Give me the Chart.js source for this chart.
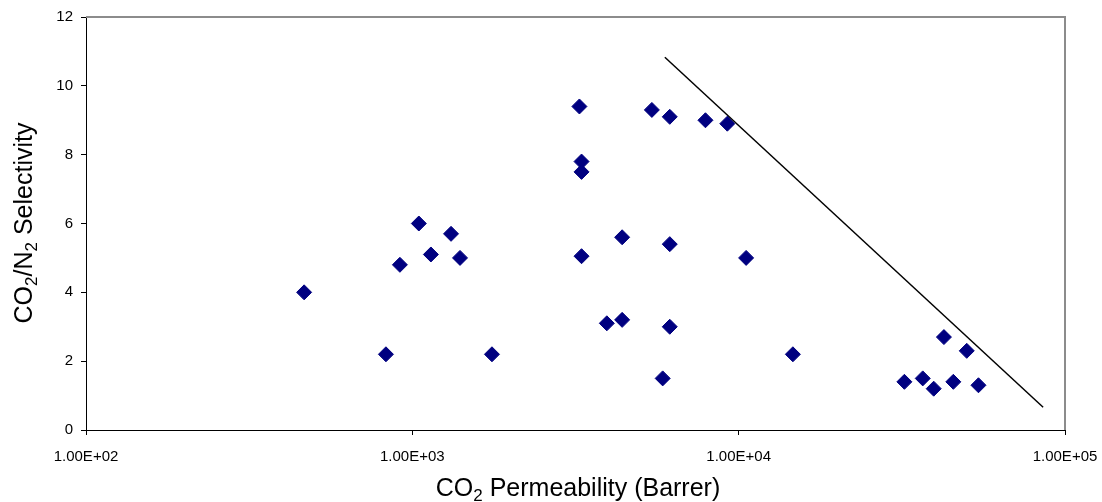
<!DOCTYPE html>
<html>
<head>
<meta charset="utf-8">
<script src="https://cdn.jsdelivr.net/npm/chart.js@4.4.0/dist/chart.umd.min.js"></script>
<style>
  html, body { margin: 0; padding: 0; background: #fff; }
</style>
</head>
<body>
<canvas id="chart" width="1102" height="502"></canvas>
<script>
// CO2 permeability (Barrer) and CO2/N2 selectivity
const permeability = [
  466, 830, 916, 1047, 1140, 1314, 1400, 1754,
  3251, 3300, 3300, 3300, 3945, 4395, 4395, 5850, 5420, 6150, 6150, 6150, 7910, 9230, 10540, 14660,
  32200, 36650, 39600, 42560, 45480, 50000, 54300
];
const selectivity = [
  4.0, 2.2, 4.8, 6.0, 5.1, 5.7, 5.0, 2.2,
  9.4, 7.8, 7.5, 5.05, 3.1, 3.2, 5.6, 1.5, 9.3, 9.1, 5.4, 3.0, 9.0, 8.9, 5.0, 2.2,
  1.4, 1.5, 1.2, 2.7, 1.4, 2.3, 1.3
];
// upper bound line end points
const boundX = [5940, 85700];
const boundY = [10.83, 0.66];

const xTicks = [100, 1000, 10000, 100000];
const yTicks = [0, 2, 4, 6, 8, 10, 12];

const FONT = '"Liberation Sans", Arial, sans-serif';

// axis titles with real subscripts
function drawRich(ctx, parts, size) {
  const sub = Math.round(size * 0.66);
  let w = 0;
  parts.forEach(p => {
    ctx.font = (p[1] ? sub : size) + 'px ' + FONT;
    w += ctx.measureText(p[0]).width;
  });
  let x = -w / 2;
  parts.forEach(p => {
    ctx.font = (p[1] ? sub : size) + 'px ' + FONT;
    ctx.fillText(p[0], x, p[1] ? size * 0.3 : 0);
    x += ctx.measureText(p[0]).width;
  });
}

const framePlugin = {
  id: 'frame',
  afterDraw(chart) {
    const { ctx, chartArea: a } = chart;
    ctx.save();
    ctx.strokeStyle = '#8c8c8c';
    ctx.lineWidth = 2;
    ctx.beginPath();
    ctx.moveTo(a.left, a.top);
    ctx.lineTo(a.right, a.top);
    ctx.lineTo(a.right, a.bottom);
    ctx.stroke();

    ctx.fillStyle = '#000';
    ctx.textBaseline = 'middle';
    ctx.textAlign = 'left';
    ctx.save();
    ctx.translate(578, 489);
    drawRich(ctx, [['CO', 0], ['2', 1], [' Permeability (Barrer)', 0]], 25);
    ctx.restore();
    ctx.save();
    ctx.translate(25, 223);
    ctx.rotate(-Math.PI / 2);
    drawRich(ctx, [['CO', 0], ['2', 1], ['/N', 0], ['2', 1], [' Selectivity', 0]], 25);
    ctx.restore();
    ctx.restore();
  }
};

const points = permeability.map((p, i) => ({ x: p, y: selectivity[i] }));
const bound = boundX.map((p, i) => ({ x: p, y: boundY[i] }));

new Chart(document.getElementById('chart'), {
  type: 'scatter',
  data: {
    datasets: [
      {
        data: points,
        pointStyle: 'rectRot',
        pointRadius: 7.5,
        borderWidth: 1,
        backgroundColor: '#000080',
        borderColor: '#000080'
      },
      {
        type: 'line',
        data: bound,
        borderColor: '#000',
        borderWidth: 1.5,
        pointRadius: 0,
        fill: false
      }
    ]
  },
  options: {
    responsive: false,
    animation: false,
    layout: { padding: { top: 17, right: 37, left: 0, bottom: 0 } },
    plugins: {
      legend: { display: false },
      tooltip: { enabled: false }
    },
    scales: {
      x: {
        type: 'logarithmic',
        min: 100,
        max: 100000,
        afterBuildTicks: s => { s.ticks = xTicks.map(v => ({ value: v })); },
        afterFit: s => {
          s.height = 72;
          s.paddingLeft = 0;
          s.paddingRight = 0;
        },
        grid: { drawOnChartArea: false, tickLength: 5, color: '#000' },
        border: { color: '#000', width: 1 },
        ticks: {
          color: '#000',
          padding: 13,
          maxRotation: 0,
          font: { family: FONT, size: 15 },
          callback: v => {
            const e = Math.round(Math.log10(v));
            return '1.00E+' + String(e).padStart(2, '0');
          }
        }
      },
      y: {
        min: 0,
        max: 12,
        afterBuildTicks: s => { s.ticks = yTicks.map(v => ({ value: v })); },
        afterFit: s => {
          s.width = 86;
          s.paddingTop = 0;
          s.paddingBottom = 0;
        },
        grid: { drawOnChartArea: false, tickLength: 5, color: '#000' },
        border: { color: '#000', width: 1 },
        ticks: {
          color: '#000',
          padding: 8,
          font: { family: FONT, size: 15 }
        }
      }
    }
  },
  plugins: [framePlugin]
});
</script>
</body>
</html>
